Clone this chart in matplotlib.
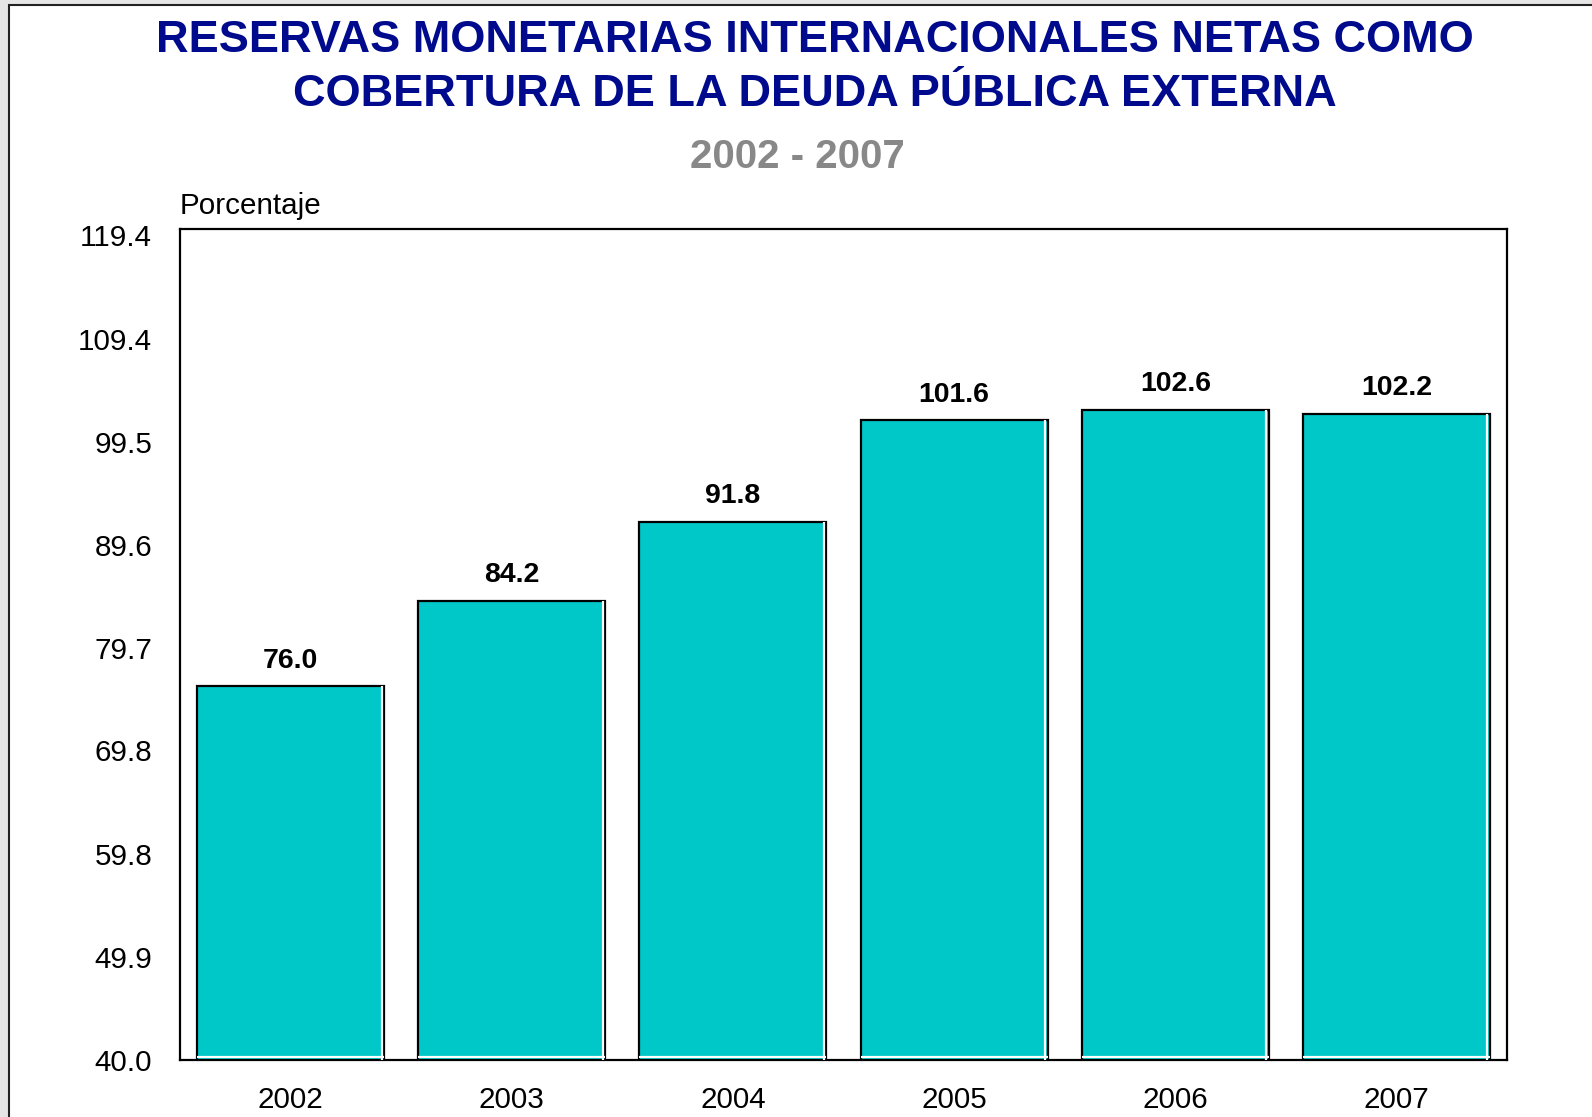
import matplotlib
matplotlib.use("Agg")
import matplotlib.pyplot as plt
from matplotlib.patches import Rectangle
import matplotlib.transforms as mtransforms

years = ["2002", "2003", "2004", "2005", "2006", "2007"]
values = [76.0, 84.2, 91.8, 101.6, 102.6, 102.2]
ytick_vals = [40.0, 49.9, 59.8, 69.8, 79.7, 89.6, 99.5, 109.4, 119.4]
ytick_labels = ["40.0", "49.9", "59.8", "69.8", "79.7", "89.6", "99.5", "109.4", "119.4"]
y_min, y_max = 40.0, 120.0
title_line1 = "RESERVAS MONETARIAS INTERNACIONALES NETAS COMO"
title_line2 = "COBERTURA DE LA DEUDA PÚBLICA EXTERNA"
subtitle_text = "2002 - 2007"
ylabel_text = "Porcentaje"

plt.rcParams['font.family'] = ['Liberation Sans', 'DejaVu Sans']

W, H = 1592, 1117
fig = plt.figure(figsize=(W / 100, H / 100), dpi=100)
fig.patch.set_facecolor('#e6e6e6')

# white page with border
page = Rectangle((9 / W, -0.01), 1.0, 1 - 5 / H + 0.01, transform=fig.transFigure,
                 facecolor='white', edgecolor='#222222', linewidth=1.5, zorder=-10)
fig.patches.append(page)

ax = fig.add_axes([180 / W, 1 - 1060 / H, (1507 - 180) / W, (1060 - 229) / H])
ax.set_zorder(1)
ax.set_facecolor('white')

x = list(range(len(years)))
bars = ax.bar(x, values, width=0.846, color='#00C8C8', edgecolor='black', linewidth=1.6, zorder=2)

# white inner highlight on right and bottom of each bar
off_r = mtransforms.offset_copy(ax.transData, fig=fig, x=-2.5, y=0, units='dots')
off_b = mtransforms.offset_copy(ax.transData, fig=fig, x=0, y=3, units='dots')
for b in bars:
    xr = b.get_x() + b.get_width()
    ax.plot([xr, xr], [y_min, b.get_height()], color='white', lw=1.6,
            transform=off_r, zorder=3, solid_capstyle='butt')
    ax.plot([b.get_x(), xr], [y_min, y_min], color='white', lw=1.6,
            transform=off_b, zorder=3, solid_capstyle='butt')

for xi, v in zip(x, values):
    ax.annotate(f"{v:.1f}", (xi, v), xytext=(0, 9), textcoords='offset points',
                ha='center', va='bottom', fontsize=20.5, fontweight='bold', color='black')

ax.set_xlim(-0.5, len(years) - 0.5)
ax.set_ylim(y_min, y_max)
ax.set_yticks(ytick_vals)
ax.set_yticklabels(ytick_labels)
ax.set_xticks(x)
ax.set_xticklabels(years)
ax.tick_params(axis='both', length=0, labelsize=21.3, colors='black')
ax.tick_params(axis='y', pad=20)
ax.tick_params(axis='x', pad=18.5)
for s in ax.spines.values():
    s.set_linewidth(1.6)
    s.set_color('black')

fig.text(815 / W, 1 - 41 / H, title_line1, ha='center', va='center', fontsize=32.5,
         fontweight='bold', color='#000a8c')
fig.text(815 / W, 1 - 95 / H, title_line2, ha='center', va='center', fontsize=32.5,
         fontweight='bold', color='#000a8c')
fig.text(797 / W, 1 - 157 / H, subtitle_text, ha='center', va='center', fontsize=29,
         fontweight='bold', color='#888888')
fig.text(180 / W, 1 - 206 / H, ylabel_text, ha='left', va='center', fontsize=21.3, color='black')

fig.savefig("out.png", dpi=100, facecolor=fig.get_facecolor())
